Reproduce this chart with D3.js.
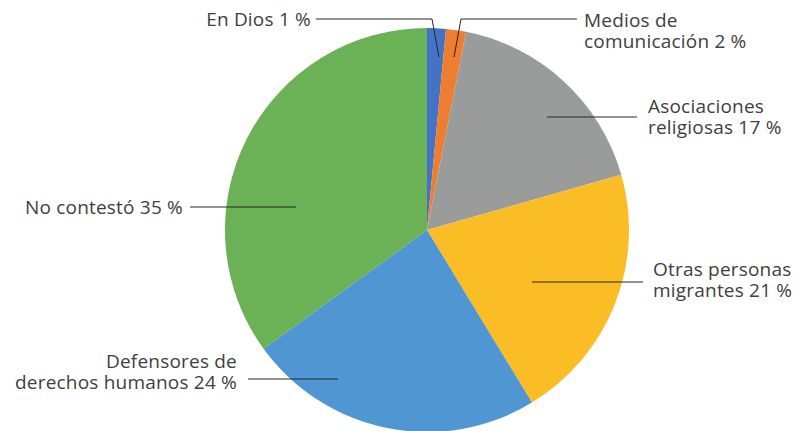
<!DOCTYPE html>
<html>
<head>
<meta charset="utf-8">
<script src="https://cdn.jsdelivr.net/npm/d3@7"></script>
<style>
  body { margin: 0; background: #fff; }
  text { font-family: "Open Sans", sans-serif; font-size: 19px; letter-spacing: 0.2px; fill: #404040; }
</style>
</head>
<body>
<div id="chart"></div>
<script>
// categories and shares (labels carry the rounded figures)
var categories = ["En Dios", "Medios de comunicación", "Asociaciones religiosas",
                  "Otras personas migrantes", "Defensores de derechos humanos", "No contestó"];
var values = [1.5, 1.6, 17.5, 20.7, 23.7, 35.0];
var labelLines = [
  ["En Dios 1 %"],
  ["Medios de", "comunicación 2 %"],
  ["Asociaciones", "religiosas 17 %"],
  ["Otras personas", "migrantes 21 %"],
  ["Defensores de", "derechos humanos 24 %"],
  ["No contestó 35 %"]
];
var colors = ["#4472C4", "#ED7D31", "#9A9C9C", "#FBBD26", "#5096D2", "#6BB155"];

// label layout: text anchor + leader polyline (annotation only)
var layout = [
  {x: 311, y: 26, anchor: "end", line: [[316, 19], [432, 19], [439, 57]]},
  {x: 584, y: 27, anchor: "start", line: [[577, 19], [461, 19], [454, 57]]},
  {x: 648, y: 113, anchor: "start", line: [[637, 117], [547, 117]]},
  {x: 653, y: 276, anchor: "start", line: [[643, 282], [532, 282]]},
  {x: 237, y: 368, anchor: "end", line: [[248, 379], [338, 379]]},
  {x: 183, y: 214, anchor: "end", line: [[190, 207], [296, 207]]}
];

var width = 799, height = 431;
var cx = 427, cy = 230, radius = 202;

var svg = d3.select("#chart").append("svg")
    .attr("width", width)
    .attr("height", height);

var pie = d3.pie().sort(null).value(function(d) { return d; });
var arc = d3.arc().innerRadius(0).outerRadius(radius);

var g = svg.append("g")
    .attr("transform", "translate(" + cx + "," + cy + ")");

g.selectAll("path")
    .data(pie(values))
  .enter().append("path")
    .attr("d", arc)
    .attr("fill", function(d, i) { return colors[i]; });

var line = d3.line();

svg.selectAll("path.leader")
    .data(layout)
  .enter().append("path")
    .attr("class", "leader")
    .attr("d", function(d) { return line(d.line); })
    .attr("fill", "none")
    .attr("stroke", "#262626")
    .attr("stroke-width", 1);

var labels = svg.selectAll("text.lbl")
    .data(layout)
  .enter().append("text")
    .attr("class", "lbl")
    .attr("x", function(d) { return d.x; })
    .attr("y", function(d) { return d.y; })
    .attr("text-anchor", function(d) { return d.anchor; });

labels.each(function(d, i) {
  var t = d3.select(this);
  labelLines[i].forEach(function(s, j) {
    t.append("tspan")
      .attr("x", d.x)
      .attr("dy", j === 0 ? 0 : 21)
      .text(s);
  });
});
</script>
</body>
</html>
